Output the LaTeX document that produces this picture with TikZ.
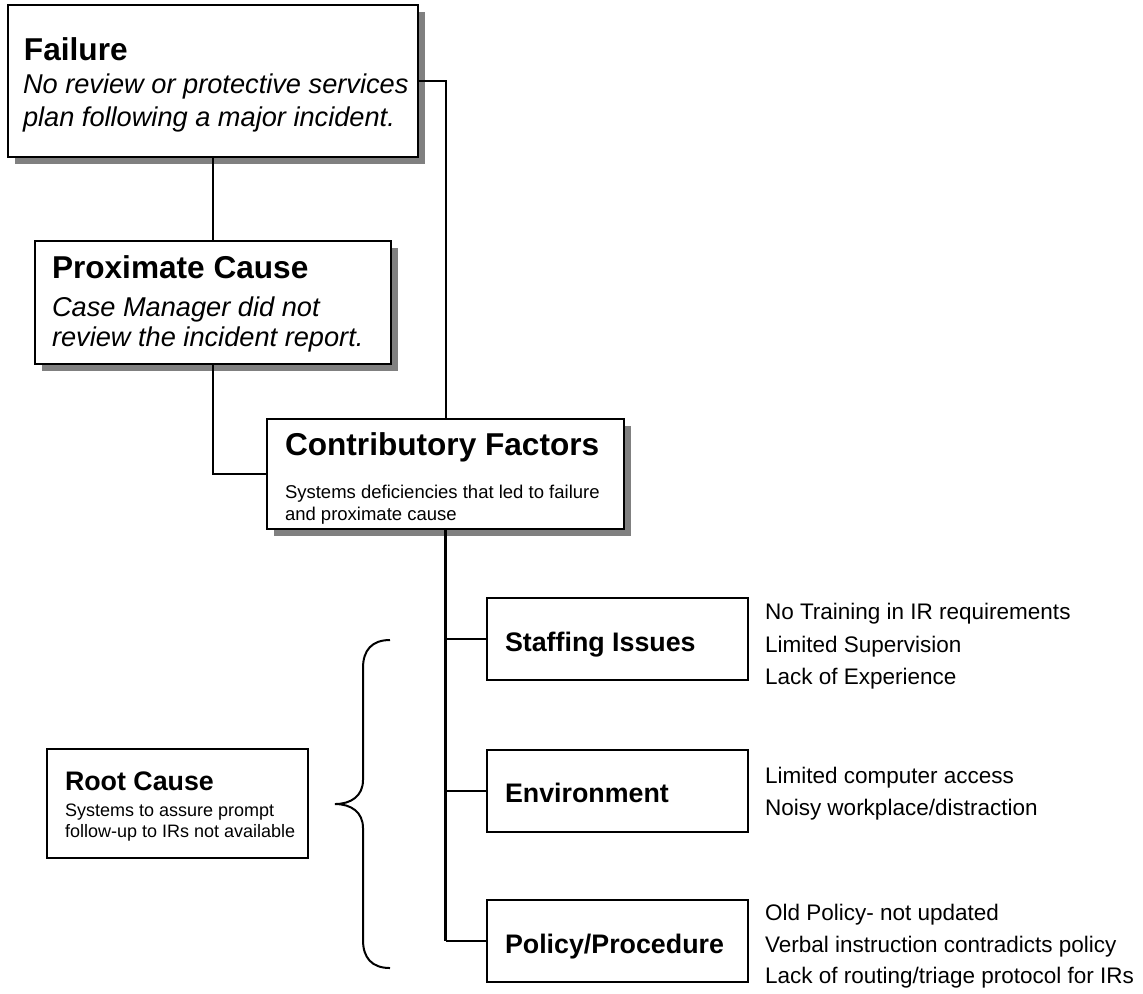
\documentclass[tikz,border=0pt]{standalone}
\usepackage{fontspec}
\setmainfont{Liberation Sans}
\usetikzlibrary{shadows}
\definecolor{shadowgray}{HTML}{808080}
\begin{document}
\begin{tikzpicture}[x=0.5pt,y=-0.5pt,
  box/.style={draw=black, line width=1pt, fill=white, rectangle, inner sep=0pt},
  shadowbox/.style={box, general shadow={fill=shadowgray, shadow xshift=3.5pt, shadow yshift=-3.5pt}},
  link/.style={draw=black, line width=1pt},
  trunk/.style={draw=black, line width=1.5pt},
  txt/.style={anchor=base west, inner sep=0pt, outer sep=0pt},
  bigtitle/.style={txt, font=\fontsize{15.8}{18}\selectfont\bfseries},
  desc/.style={txt, font=\fontsize{13.6}{15}\selectfont\itshape},
  smalltxt/.style={txt, font=\fontsize{9.25}{11}\selectfont},
  label/.style={txt, font=\fontsize{13.4}{15}\selectfont\bfseries},
  rootitle/.style={txt, font=\fontsize{13.4}{15}\selectfont\bfseries},
  roottxt/.style={txt, font=\fontsize{9}{11}\selectfont},
  listtxt/.style={txt, font=\fontsize{11.25}{13}\selectfont}
]
\useasboundingbox (0,0) rectangle (1143,993);

% main chain of boxes (with drop shadows)
\node[shadowbox, minimum width=205pt, minimum height=76pt] (fail) at (213,81) {};
\node[shadowbox, minimum width=178pt, minimum height=61.5pt] (prox) at (213,302.5) {};
\node[shadowbox, minimum width=178.5pt, minimum height=55pt] (contrib) at (445.5,474) {};

% factor boxes
\node[box, minimum width=130.5pt, minimum height=41pt] (staff) at (617.5,639) {};
\node[box, minimum width=130.5pt, minimum height=41pt] (env) at (617.5,790.5) {};
\node[box, minimum width=130.5pt, minimum height=41pt] (policy) at (617.5,941) {};

% root cause box
\node[box, minimum width=130.5pt, minimum height=54.5pt] (root) at (177.5,803.5) {};

% connectors
\draw[link] (fail.south) -- (prox.north);
\draw[link] (fail.east) -| (contrib.north);
\draw[link] (prox.south) |- (contrib.west);
\draw[trunk] (contrib.south) -- (contrib.south |- policy.west);
\draw[link] (contrib.south |- staff.west) -- (staff.west);
\draw[link] (contrib.south |- env.west) -- (env.west);
\draw[link] (contrib.south |- policy.west) -- (policy.west);

% curly brace grouping the factors
\draw[line width=1pt] (390,640) .. controls (372,640) and (363,650) .. (363,668)
  -- (363,780) .. controls (363,796) and (351,804) .. (335,804)
  .. controls (351,804) and (363,812) .. (363,828)
  -- (363,940) .. controls (363,958) and (372,968) .. (390,968);

% box texts
\node[bigtitle] (failT) at (24,60) {Failure};
\node[desc] (failD1) at (23,93) {No review or protective services};
\node[desc] (failD2) at (23,126) {plan following a major incident.};

\node[bigtitle] (proxT) at (52,278) {Proximate Cause};
\node[desc] (proxD1) at (52,316) {Case Manager did not};
\node[desc] (proxD2) at (52,346) {review the incident report.};

\node[bigtitle] (contribT) at (285,455) {Contributory Factors};
\node[smalltxt] (contribD1) at (285,498) {Systems deficiencies that led to failure};
\node[smalltxt] (contribD2) at (285,520) {and proximate cause};

\node[label] (staffT) at (505,651) {Staffing Issues};
\node[label] (envT) at (505,802) {Environment};
\node[label] (policyT) at (505,953) {Policy/Procedure};

\node[rootitle] (rootT) at (65,790) {Root Cause};
\node[roottxt] (rootD1) at (65,816) {Systems to assure prompt};
\node[roottxt] (rootD2) at (65,837) {follow-up to IRs not available};

% factor details
\node[listtxt] (s1) at (765,619) {No Training in IR requirements};
\node[listtxt] (s2) at (765,652) {Limited Supervision};
\node[listtxt] (s3) at (765,684) {Lack of Experience};

\node[listtxt] (e1) at (765,783) {Limited computer access};
\node[listtxt] (e2) at (765,815) {Noisy workplace/distraction};

\node[listtxt] (p1) at (765,920) {Old Policy- not updated};
\node[listtxt] (p2) at (765,952) {Verbal instruction contradicts policy};
\node[listtxt] (p3) at (765,983) {Lack of routing/triage protocol for IRs};
\end{tikzpicture}
\end{document}
